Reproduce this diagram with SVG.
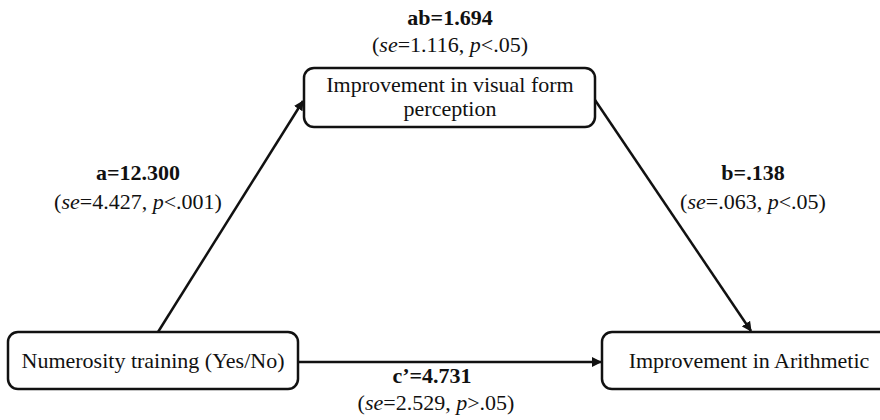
<svg xmlns="http://www.w3.org/2000/svg" width="880" height="420" viewBox="0 0 880 420">
<style>
text{font-family:'Liberation Serif', 'Times New Roman', serif;font-size:22px;fill:#111;text-anchor:middle}
.b{font-weight:bold}
.box{fill:#fff;stroke:#111;stroke-width:2.5}
.edge{stroke:#111;stroke-width:2.5;fill:none;marker-end:url(#ah)}
</style>
<defs>
<marker id="ah" viewBox="0 0 10 10" refX="9" refY="5" markerWidth="4" markerHeight="4" orient="auto" markerUnits="strokeWidth">
<path d="M0,0 L10,5 L0,10 z" fill="#111"/>
</marker>
</defs>
<g id="connectors">
<line class="edge" x1="158" y1="332" x2="303" y2="101"/>
<line class="edge" x1="595" y1="100" x2="751" y2="331"/>
<line class="edge" x1="298" y1="362" x2="601" y2="362"/>
</g>
<g id="mediator">
<rect class="box" x="304" y="68" width="291" height="59" rx="10"/>
<text x="450" y="92">Improvement in visual form</text>
<text x="450" y="116">perception</text>
</g>
<g id="predictor">
<rect class="box" x="8" y="332" width="290" height="57" rx="10"/>
<text x="153" y="368">Numerosity training (Yes/No)</text>
</g>
<g id="outcome">
<rect class="box" x="602" y="332" width="290" height="57" rx="10"/>
<text x="749" y="368">Improvement in Arithmetic</text>
</g>
<g id="labels">
<text class="b" x="450" y="25">ab=1.694</text>
<text x="450" y="52">(<tspan font-style="italic">se</tspan>=1.116, <tspan font-style="italic">p</tspan>&lt;.05)</text>
<text class="b" x="138" y="180">a=12.300</text>
<text x="138" y="209">(<tspan font-style="italic">se</tspan>=4.427, <tspan font-style="italic">p</tspan>&lt;.001)</text>
<text class="b" x="753" y="180">b=.138</text>
<text x="753" y="209">(<tspan font-style="italic">se</tspan>=.063, <tspan font-style="italic">p</tspan>&lt;.05)</text>
<text class="b" x="432" y="383">c’=4.731</text>
<text x="436" y="410">(<tspan font-style="italic">se</tspan>=2.529, <tspan font-style="italic">p</tspan>&gt;.05)</text>
</g>
</svg>
